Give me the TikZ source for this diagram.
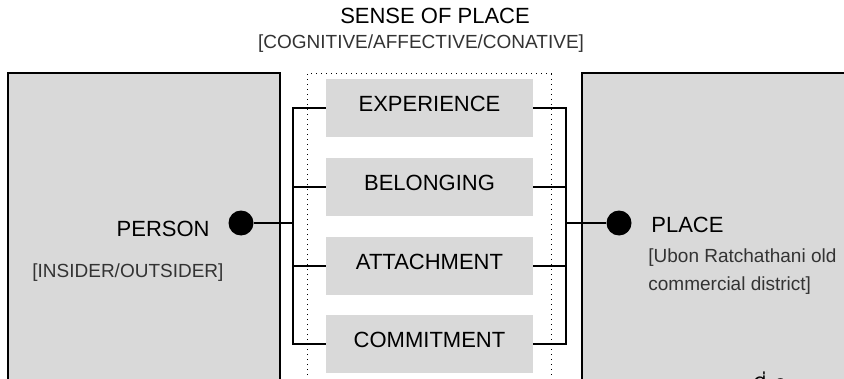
\documentclass[tikz,border=0pt]{standalone}
\usepackage{fontspec}
\setmainfont{Liberation Sans}
\newfontfamily\thaifont[Script=Thai]{Loma}
\usetikzlibrary{positioning}

\definecolor{panelgray}{HTML}{D9D9D9}
\definecolor{notegray}{HTML}{333333}

\begin{document}
\begin{tikzpicture}[x=0.5pt, y=-0.5pt,
    panel/.style={draw=black, line width=0.65pt, fill=panelgray},
    facet/.style={fill=panelgray, minimum width=103.5pt, minimum height=29pt, inner sep=0pt,
        text height=8pt, text depth=4.5pt, font=\fontsize{11}{13}\selectfont},
    link/.style={line width=1pt},
    dot/.style={circle, fill=black, minimum size=12.5pt, inner sep=0pt},
    maintext/.style={inner sep=0pt, font=\fontsize{11}{13}\selectfont},
    note/.style={inner sep=0pt, text=notegray, font=\fontsize{9.5}{14}\selectfont}]

    \useasboundingbox (0,0) rectangle (844,379);
    \clip (0,0) rectangle (844,379);
    \fill[white] (0,0) rectangle (844,379);

    % --- Title ---
    \node[maintext, anchor=base] (title) at (435,24) {SENSE OF PLACE};
    \node[note, anchor=base] (modes) at (421,49) {[COGNITIVE/AFFECTIVE/CONATIVE]};

    % --- Person and place panels ---
    \draw[panel] (8,73) rectangle (280,400);
    \draw[panel] (582,73) rectangle (860,400);

    % --- Dotted frame round the facets ---
    \draw[dotted, line width=0.5pt] (307,400) |- (551,74) -- (551,400);

    % Facets
    \node[facet] (exp) at (429.5,108) {EXPERIENCE};
    \node[facet, below=10pt of exp] (bel) {BELONGING};
    \node[facet, below=10pt of bel] (att) {ATTACHMENT};
    \node[facet, below=10pt of att] (com) {COMMITMENT};

    % Dots
    \node[dot] (personDot) at (241,223) {};
    \node[dot] (placeDot) at (619,223) {};

    % Brackets
    \coordinate (lx) at (293,0);
    \coordinate (rx) at (566,0);
    \draw[link] (exp.west) -- (exp.west -| lx) -- (com.west -| lx) -- (com.west);
    \draw[link] (exp.east) -- (exp.east -| rx) -- (com.east -| rx) -- (com.east);
    \foreach \f in {bel,att} {
        \draw[link] (\f.west) -- (\f.west -| lx);
        \draw[link] (\f.east) -- (\f.east -| rx);
    }
    \draw[link] (personDot.east) -- (personDot -| lx);
    \draw[link] (placeDot.west) -- (placeDot -| rx);

    % --- Labels ---
    \node[maintext, anchor=base east] (person) at (210,236) {PERSON};
    \node[note, anchor=base west] (role) at (32,277) {[INSIDER/OUTSIDER]};
    \node[maintext, anchor=base west] (place) at (651,232) {PLACE};
    \node[note, anchor=base west] (site) at (648,262) {[Ubon Ratchathani old};
    \node[note, anchor=base west] (site2) at (648,290) {commercial district]};

    % Caption cut by the page edge
    \node[inner sep=0pt, anchor=base west, font=\thaifont\fontsize{11}{13}\selectfont] (figno) at (752,394) {ที่ 2};

\end{tikzpicture}
\end{document}
